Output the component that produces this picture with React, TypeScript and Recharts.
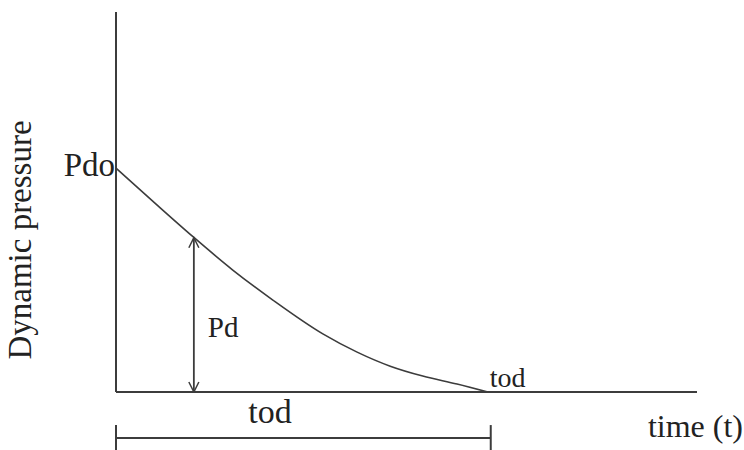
import React from 'react';
import { LineChart, Line, XAxis, YAxis, ReferenceLine, ReferenceDot } from 'recharts';

// time (t) values and dynamic pressure readings of the decay curve
const curveTime = [0, 0.67, 1.33, 2.01, 2.7, 3.56, 4.15, 4.72, 5.28, 5.87, 6.4];
const curvePressure = [5.89, 4.97, 4.08, 3.21, 2.42, 1.53, 1.05, 0.68, 0.42, 0.21, 0];

// sampled instant where Pd is marked
const pdTime = [1.34, 1.34];
const pdPressure = [0, 4.06];

// duration tod and the bracket drawn below the time axis
const todDuration = 6.45;
const bracketLevel = -1.21;
const bracketTickTop = -0.87;
const bracketTickBottom = -1.6;

const axisDomainTime = [0, 10];
const axisDomainPressure = [0, 10];

const labelTexts = {
  pdo: 'Pdo',
  pd: 'Pd',
  todEnd: 'tod',
  todSpan: 'tod',
  xTitle: 'time (t)',
  yTitle: 'Dynamic pressure',
};

const curveData = curveTime.map((t, i) => ({ t, v: curvePressure[i] }));
const pdData = pdTime.map((t, i) => ({ t, v: pdPressure[i] }));

const FONT = '"Liberation Serif", "Times New Roman", serif';
const INK = '#222';
const LINE = '#3c3c3c';

type LabelOpts = { dx: number; dy: number; size: number; anchor?: 'start' | 'middle' | 'end'; rotate?: boolean };

const makeLabel = (text: string, o: LabelOpts) => (props: any) => {
  const vb = props.viewBox || {};
  const cx = (vb.x ?? 0) + (vb.width ?? 0) / 2 + o.dx;
  const cy = (vb.y ?? 0) + (vb.height ?? 0) / 2 + o.dy;
  return (
    <text
      x={cx}
      y={cy}
      fontFamily={FONT}
      fontSize={o.size}
      fill={INK}
      textAnchor={o.anchor || 'start'}
      transform={o.rotate ? `rotate(-90 ${cx} ${cy})` : undefined}
    >
      {text}
    </text>
  );
};

export default function App() {
  return (
    <div style={{ position: 'absolute', left: 0, top: 0, width: 744, height: 450, background: '#fff' }}>
      <svg width={0} height={0} style={{ position: 'absolute' }}>
        <defs>
          <marker
            id="arrowHead"
            viewBox="-12 -7 14 14"
            markerWidth={14}
            markerHeight={14}
            refX={0}
            refY={0}
            orient="auto-start-reverse"
            markerUnits="userSpaceOnUse"
          >
            <path d="M -10 -5 L 0 0 L -10 5" fill="none" stroke={LINE} strokeWidth={1.5} />
          </marker>
        </defs>
      </svg>
      <LineChart width={744} height={450} margin={{ top: 12, right: 47, bottom: 57, left: 115 }}>
        <XAxis
          type="number"
          dataKey="t"
          domain={axisDomainTime}
          height={1}
          tick={false}
          tickLine={false}
          axisLine={{ stroke: LINE, strokeWidth: 2 }}
          allowDataOverflow
        />
        <YAxis
          type="number"
          dataKey="v"
          domain={axisDomainPressure}
          width={1}
          tick={false}
          tickLine={false}
          axisLine={{ stroke: LINE, strokeWidth: 2 }}
          allowDataOverflow
        />
        <Line
          data={curveData}
          dataKey="v"
          type="monotone"
          stroke={LINE}
          strokeWidth={1.6}
          dot={false}
          activeDot={false}
          isAnimationActive={false}
        />
        <Line
          data={pdData}
          dataKey="v"
          type="linear"
          stroke={LINE}
          strokeWidth={1.8}
          dot={false}
          activeDot={false}
          isAnimationActive={false}
          markerStart="url(#arrowHead)"
          markerEnd="url(#arrowHead)"
        />
        <ReferenceLine
          segment={[{ x: 0, y: bracketLevel }, { x: todDuration, y: bracketLevel }]}
          stroke={LINE}
          strokeWidth={2}
          ifOverflow="visible"
        />
        <ReferenceLine
          segment={[{ x: 0, y: bracketTickTop }, { x: 0, y: bracketTickBottom }]}
          stroke={LINE}
          strokeWidth={2}
          ifOverflow="visible"
        />
        <ReferenceLine
          segment={[{ x: todDuration, y: bracketTickTop }, { x: todDuration, y: bracketTickBottom }]}
          stroke={LINE}
          strokeWidth={2}
          ifOverflow="visible"
        />
        <ReferenceDot
          x={curveTime[0]}
          y={curvePressure[0]}
          r={1}
          fill="none"
          stroke="none"
          ifOverflow="visible"
          label={makeLabel(labelTexts.pdo, { dx: -1, dy: 8, size: 33, anchor: 'end' })}
        />
        <ReferenceDot
          x={pdTime[0]}
          y={1.45}
          r={1}
          fill="none"
          stroke="none"
          ifOverflow="visible"
          label={makeLabel(labelTexts.pd, { dx: 14, dy: 0, size: 29 })}
        />
        <ReferenceDot
          x={curveTime[curveTime.length - 1]}
          y={0}
          r={1}
          fill="none"
          stroke="none"
          ifOverflow="visible"
          label={makeLabel(labelTexts.todEnd, { dx: 2, dy: -5, size: 28 })}
        />
        <ReferenceDot
          x={2.65}
          y={-0.82}
          r={1}
          fill="none"
          stroke="none"
          ifOverflow="visible"
          label={makeLabel(labelTexts.todSpan, { dx: 0, dy: 0, size: 34, anchor: 'middle' })}
        />
        <ReferenceDot
          x={axisDomainTime[1]}
          y={0}
          r={1}
          fill="none"
          stroke="none"
          ifOverflow="visible"
          label={makeLabel(labelTexts.xTitle, { dx: 46, dy: 45, size: 32, anchor: 'end' })}
        />
        <ReferenceDot
          x={-1.46}
          y={4.0}
          r={1}
          fill="none"
          stroke="none"
          ifOverflow="visible"
          label={makeLabel(labelTexts.yTitle, { dx: 0, dy: 0, size: 33, anchor: 'middle', rotate: true })}
        />
      </LineChart>
    </div>
  );
}
